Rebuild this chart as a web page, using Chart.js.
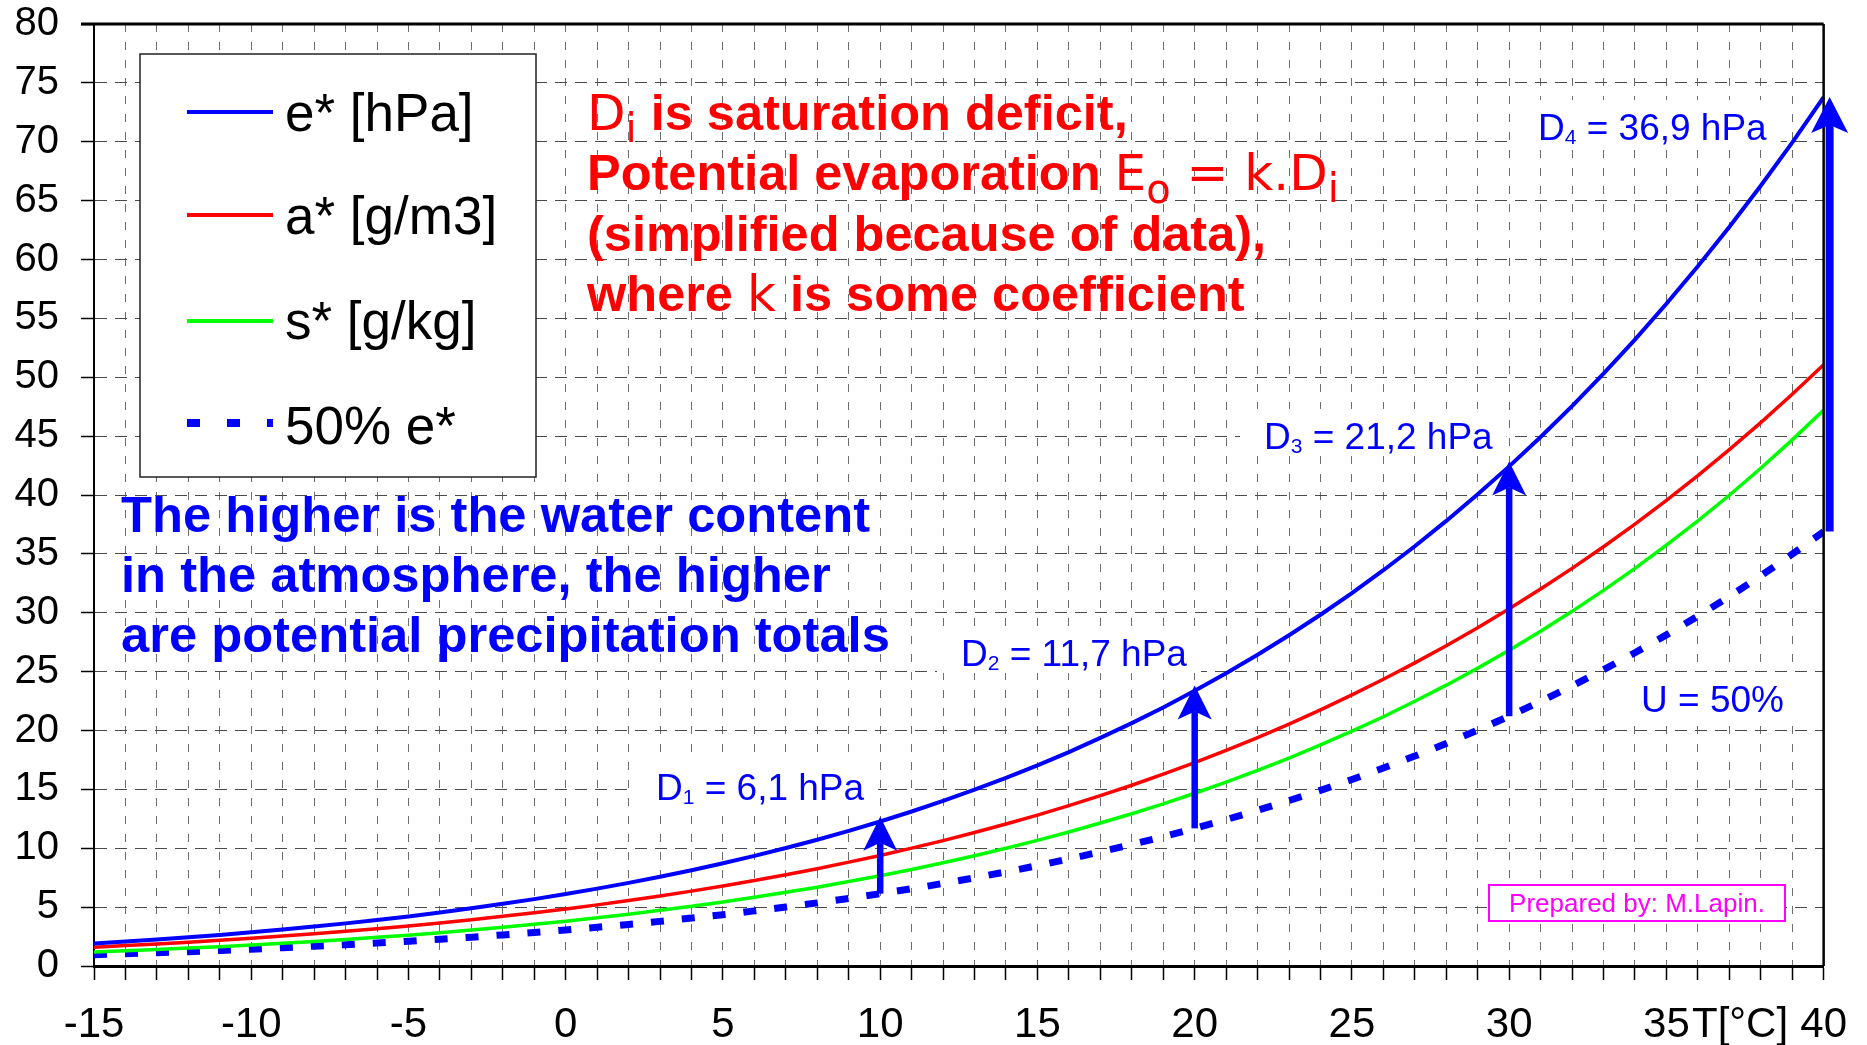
<!DOCTYPE html>
<html>
<head>
<meta charset="utf-8">
<title>Saturation humidity vs temperature</title>
<script src="https://cdn.jsdelivr.net/npm/chart.js@4.4.1/dist/chart.umd.min.js"></script>
<style>
  html, body { margin: 0; padding: 0; background: #ffffff; }
  canvas { display: block; }
</style>
</head>
<body>
<canvas id="chart" width="1867" height="1045"></canvas>
<script>
// Air temperature T [°C]
const temperatures = [-15, -14, -13, -12, -11, -10, -9, -8, -7, -6, -5, -4, -3, -2, -1,
  0, 1, 2, 3, 4, 5, 6, 7, 8, 9, 10, 11, 12, 13, 14, 15, 16, 17, 18, 19, 20,
  21, 22, 23, 24, 25, 26, 27, 28, 29, 30, 31, 32, 33, 34, 35, 36, 37, 38, 39, 40];

// Saturation vapour pressure e* [hPa]
const eSat = [1.91, 2.08, 2.25, 2.44, 2.64, 2.86, 3.10, 3.35, 3.62, 3.91, 4.21, 4.55, 4.90, 5.28, 5.68,
  6.11, 6.57, 7.06, 7.58, 8.13, 8.72, 9.35, 10.02, 10.72, 11.48, 12.27, 13.12, 14.02, 14.97, 15.98, 17.04,
  18.17, 19.37, 20.63, 21.96, 23.37, 24.86, 26.43, 28.09, 29.83, 31.67, 33.61, 35.65, 37.80, 40.06, 42.43,
  44.93, 47.55, 50.31, 53.20, 56.24, 59.42, 62.76, 66.26, 69.93, 73.78];

// Saturation absolute humidity a* [g/m3]
const aSat = [1.60, 1.74, 1.87, 2.02, 2.18, 2.36, 2.54, 2.74, 2.95, 3.17, 3.40, 3.66, 3.93, 4.22, 4.52,
  4.85, 5.19, 5.56, 5.95, 6.36, 6.79, 7.26, 7.75, 8.26, 8.82, 9.39, 10.01, 10.65, 11.34, 12.06, 12.81,
  13.62, 14.47, 15.35, 16.29, 17.28, 18.31, 19.40, 20.55, 21.75, 23.02, 24.35, 25.74, 27.20, 28.73, 30.33,
  32.01, 33.77, 35.61, 37.53, 39.55, 41.65, 43.85, 46.15, 48.55, 51.06];

// Saturation specific humidity s* [g/kg]
const sSat = [1.19, 1.29, 1.40, 1.52, 1.64, 1.78, 1.93, 2.09, 2.25, 2.44, 2.62, 2.83, 3.05, 3.29, 3.54,
  3.81, 4.10, 4.40, 4.73, 5.07, 5.44, 5.84, 6.26, 6.69, 7.17, 7.67, 8.20, 8.77, 9.36, 10.00, 10.67,
  11.38, 12.14, 12.93, 13.77, 14.67, 15.61, 16.61, 17.66, 18.77, 19.94, 21.17, 22.48, 23.85, 25.30, 26.82,
  28.43, 30.12, 31.90, 33.77, 35.74, 37.81, 39.98, 42.27, 44.68, 47.21];

// Vapour pressure at relative humidity U = 50% [hPa]
const eHalf = [0.96, 1.04, 1.13, 1.22, 1.32, 1.43, 1.55, 1.68, 1.81, 1.96, 2.11, 2.28, 2.45, 2.64, 2.84,
  3.06, 3.29, 3.53, 3.79, 4.07, 4.36, 4.68, 5.01, 5.36, 5.74, 6.14, 6.56, 7.01, 7.49, 7.99, 8.52,
  9.09, 9.69, 10.32, 10.98, 11.69, 12.43, 13.22, 14.05, 14.92, 15.84, 16.81, 17.83, 18.90, 20.03, 21.22,
  22.47, 23.78, 25.16, 26.60, 28.12, 29.71, 31.38, 33.13, 34.97, 36.89];

// Labelled x ticks and axis caption
const xTickLabels = [-15, -10, -5, 0, 5, 10, 15, 20, 25, 30, 35, 40];
const xAxisCaption = 'T[°C]';

// Saturation deficits D_i [hPa] at the marked temperatures
const deficitTemps = [10, 20, 30, 40];
const deficits = [6.1, 11.7, 21.2, 36.9];

const seriesLabels = ['e* [hPa]', 'a* [g/m3]', 's* [g/kg]', '50% e*'];

const FONT = '"Liberation Sans", Arial, Helvetica, sans-serif';
const WIDE = '"DejaVu Sans", Verdana, sans-serif';
const font = (size, bold, family) => (bold ? 'bold ' : '') + size + 'px ' + (family || FONT);

const BLUE = '#0000ff', RED = '#ff0000', GREEN = '#00ff00', MAGENTA = '#ff00ff';

const toPoints = (ys) => temperatures.map((t, i) => ({ x: t, y: ys[i] }));

// Draws a sequence of text runs (regular / bold / subscript) on one baseline
function drawRuns(ctx, x, y, runs, color) {
  ctx.fillStyle = color;
  ctx.textAlign = 'left';
  ctx.textBaseline = 'alphabetic';
  for (const r of runs) {
    ctx.font = font(r.size, r.bold, r.family);
    ctx.fillText(r.text, x, y + (r.dy || 0));
    x += ctx.measureText(r.text).width;
  }
  return x;
}
function runsWidth(ctx, runs) {
  let w = 0;
  for (const r of runs) { ctx.font = font(r.size, r.bold, r.family); w += ctx.measureText(r.text).width; }
  return w;
}

// Text with a white backing box (deficit labels, U = 50%)
function boxedLabel(ctx, x, baseline, runs, color, padRight) {
  const w = runsWidth(ctx, runs);
  ctx.fillStyle = '#ffffff';
  ctx.fillRect(x - 24, baseline - 40, w + 24 + (padRight || 14), 47);
  drawRuns(ctx, x, baseline, runs, color);
}

function deficitRuns(i) {
  const value = String(deficits[i]).replace('.', ',');
  return [
    { text: 'D', size: 37 },
    { text: String(i + 1), size: 21, dy: 4 },
    { text: ' = ' + value + ' hPa', size: 37 }
  ];
}

function drawArrow(ctx, x, yFrom, yTo, shaft, headW, headL, notch) {
  ctx.save();
  ctx.strokeStyle = BLUE;
  ctx.fillStyle = BLUE;
  ctx.lineWidth = shaft;
  ctx.lineCap = 'butt';
  ctx.beginPath();
  ctx.moveTo(x, yFrom);
  ctx.lineTo(x, yTo + headL - notch);
  ctx.stroke();
  ctx.beginPath();
  ctx.moveTo(x, yTo);
  ctx.lineTo(x + headW / 2, yTo + headL);
  ctx.lineTo(x, yTo + headL - notch);
  ctx.lineTo(x - headW / 2, yTo + headL);
  ctx.closePath();
  ctx.fill();
  ctx.restore();
}

const annotations = {
  id: 'annotations',
  beforeDatasetsDraw(chart) {
    const ctx = chart.ctx;
    ctx.save();

    // Legend box
    ctx.fillStyle = '#ffffff';
    ctx.fillRect(140, 54, 396, 423);
    ctx.strokeStyle = '#222222';
    ctx.lineWidth = 1.5;
    ctx.strokeRect(140, 54, 396, 423);
    const rowLine = [112, 215, 321, 423];
    const rowText = [131, 234, 339, 444];
    chart.data.datasets.forEach((ds, i) => {
      ctx.save();
      ctx.strokeStyle = ds.borderColor;
      ctx.lineCap = 'butt';
      if (ds.borderDash) {
        ctx.lineWidth = 8;
        ctx.setLineDash([13, 27]);
      } else {
        ctx.lineWidth = 4;
      }
      ctx.beginPath();
      ctx.moveTo(187, rowLine[i]);
      ctx.lineTo(273, rowLine[i]);
      ctx.stroke();
      ctx.restore();
      drawRuns(ctx, 285, rowText[i], [{ text: ds.label, size: 53 }], '#000000');
    });

    // Red explanatory block
    drawRuns(ctx, 587, 130, [
      { text: 'D', size: 50, family: WIDE },
      { text: 'i', size: 40, dy: 12, family: WIDE },
      { text: ' is saturation deficit,', size: 50.5, bold: true }
    ], RED);
    drawRuns(ctx, 587, 190, [
      { text: 'Potential evaporation ', size: 50.5, bold: true },
      { text: 'E', size: 50, family: WIDE },
      { text: 'o', size: 40, dy: 13, family: WIDE },
      { text: ' = k.D', size: 50, family: WIDE },
      { text: 'i', size: 40, dy: 12, family: WIDE }
    ], RED);
    drawRuns(ctx, 587, 251, [
      { text: '(simplified because of data),', size: 50.5, bold: true }
    ], RED);
    drawRuns(ctx, 587, 311, [
      { text: 'where ', size: 50.5, bold: true },
      { text: 'k', size: 50, family: WIDE },
      { text: ' is some coefficient', size: 50.5, bold: true }
    ], RED);

    // Blue explanatory block
    const blueLines = ['The higher is the water content', 'in the atmosphere, the higher',
      'are potential precipitation totals'];
    blueLines.forEach((t, i) => drawRuns(ctx, 121, 532 + i * 60, [{ text: t, size: 50.7, bold: true }], BLUE));

    // Deficit labels
    const labelPos = [[656, 800], [961, 666], [1264, 449], [1538, 140]];
    deficits.forEach((d, i) => boxedLabel(ctx, labelPos[i][0], labelPos[i][1], deficitRuns(i), BLUE));
    boxedLabel(ctx, 1641, 712, [{ text: 'U = 50%', size: 37 }], BLUE, 26);

    // Author stamp
    ctx.fillStyle = '#ffffff';
    ctx.fillRect(1489, 885, 296, 36);
    ctx.strokeStyle = MAGENTA;
    ctx.lineWidth = 2;
    ctx.strokeRect(1489, 885, 296, 36);
    ctx.font = font(26);
    ctx.fillStyle = MAGENTA;
    ctx.textAlign = 'center';
    ctx.textBaseline = 'alphabetic';
    ctx.fillText('Prepared by: M.Lapin.', 1637, 912);

    ctx.restore();
  },
  afterDatasetsDraw(chart) {
    const ctx = chart.ctx;
    const { left, right, top, bottom } = chart.chartArea;
    const xs = chart.scales.x, ys = chart.scales.y;

    // Frame: top and right edges of the plot area
    ctx.save();
    ctx.strokeStyle = '#000000';
    ctx.lineWidth = 3;
    ctx.beginPath();
    ctx.moveTo(left - 13, top);
    ctx.lineTo(right, top);
    ctx.stroke();
    ctx.lineWidth = 2.5;
    ctx.beginPath();
    ctx.moveTo(right, top);
    ctx.lineTo(right, bottom);
    ctx.stroke();
    ctx.restore();

    // Deficit arrows from U = 50% up to saturation
    deficitTemps.forEach((t, i) => {
      const idx = temperatures.indexOf(t);
      const base = eHalf[idx];
      const last = t === xs.max;
      const x = xs.getPixelForValue(t) + (last ? 6 : 0);
      const y0 = ys.getPixelForValue(base);
      const y1 = ys.getPixelForValue(base + deficits[i]) - (last ? 0 : 5);
      drawArrow(ctx, x, y0, y1, last ? 8 : 6.5, last ? 37 : 34, last ? 36 : 34, 8);
    });
  },
  afterDraw(chart) {
    const ctx = chart.ctx;
    ctx.save();
    ctx.font = font(42);
    ctx.fillStyle = '#000000';
    ctx.textAlign = 'left';
    ctx.textBaseline = 'middle';
    ctx.fillText(xAxisCaption, 1692, 1025);
    ctx.restore();
  }
};

new Chart(document.getElementById('chart'), {
  type: 'line',
  data: {
    datasets: [
      { label: seriesLabels[0], data: toPoints(eSat), borderColor: BLUE, borderWidth: 4 },
      { label: seriesLabels[1], data: toPoints(aSat), borderColor: RED, borderWidth: 3.5 },
      { label: seriesLabels[2], data: toPoints(sSat), borderColor: GREEN, borderWidth: 3.5 },
      { label: seriesLabels[3], data: toPoints(eHalf), borderColor: BLUE, borderWidth: 7,
        borderDash: [13, 18], borderCapStyle: 'butt' }
    ].map(d => Object.assign({ pointRadius: 0, tension: 0, fill: false }, d))
  },
  options: {
    responsive: false,
    animation: false,
    devicePixelRatio: 1,
    layout: { padding: { top: 24, right: 39, left: 0, bottom: 0 } },
    plugins: { legend: { display: false }, tooltip: { enabled: false }, title: { display: false } },
    scales: {
      x: {
        type: 'linear', min: -15, max: 40,
        afterFit: (s) => { s.height = 79; },
        ticks: {
          stepSize: 1, autoSkip: false, maxRotation: 0, padding: 20, color: '#000000',
          font: { family: FONT, size: 42 },
          callback: (v) => xTickLabels.includes(v) ? String(v) : ''
        },
        grid: {
          color: '#6e6e6e', lineWidth: 1, borderDash: [8, 10], tickLength: 14,
          tickColor: '#000000', tickWidth: 1.5, tickBorderDash: []
        },
        border: { display: true, color: '#000000', width: 3, dash: [8, 10] }
      },
      y: {
        min: 0, max: 80,
        afterFit: (s) => { s.width = 94; s.paddingTop = 20; s.paddingBottom = 20; },
        ticks: { stepSize: 5, padding: 22, color: '#000000', font: { family: FONT, size: 40 } },
        grid: {
          color: '#4a4a4a', lineWidth: 1, borderDash: [12, 8], tickLength: 13,
          tickColor: '#000000', tickWidth: 1.5, tickBorderDash: []
        },
        border: { display: true, color: '#000000', width: 2, dash: [12, 8] }
      }
    }
  },
  plugins: [annotations]
});
</script>
</body>
</html>
